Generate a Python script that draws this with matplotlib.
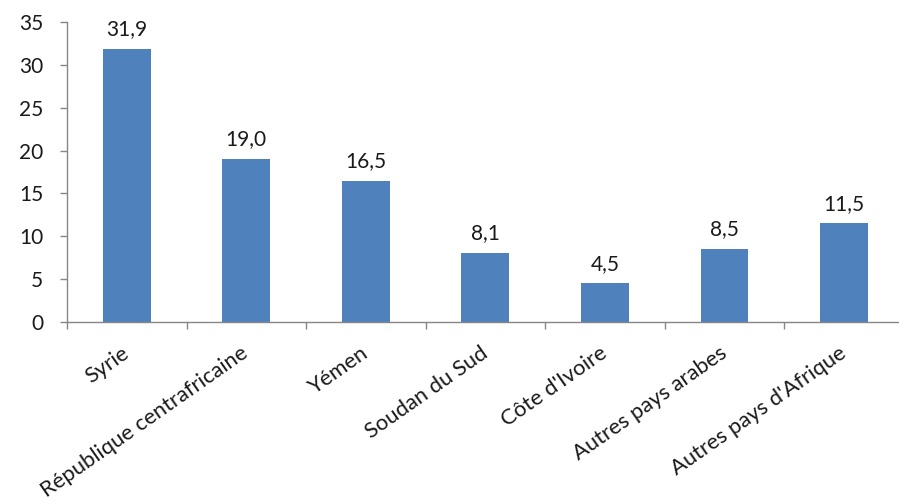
import matplotlib
matplotlib.use("Agg")
import matplotlib.pyplot as plt
import numpy as np

categories = ["Syrie", "République centrafricaine", "Yémen", "Soudan du Sud",
              "Côte d'Ivoire", "Autres pays arabes", "Autres pays d'Afrique"]
values = [31.9, 19.0, 16.5, 8.1, 4.5, 8.5, 11.5]
yticks = [0, 5, 10, 15, 20, 25, 30, 35]

plt.rcParams['font.family'] = ['Lato', 'DejaVu Sans']
FS = 15
FS_X = 15.8

fig = plt.figure(figsize=(8.99, 5.04), dpi=100)
ax = fig.add_axes([67 / 899, 182 / 504, 832 / 899, 300 / 504])

x = np.arange(len(categories))
ax.bar(x, values, width=0.4, color="#4F81BD", zorder=2)

for xi, v in zip(x, values):
    ax.annotate(f"{v:.1f}".replace(".", ","), (xi, v), xytext=(0, 7),
                textcoords="offset points", ha="center", va="bottom",
                fontsize=FS, color="#1a1a1a")

ax.set_xlim(-0.5, 6.46)
ax.set_ylim(0, 35)
ax.set_yticks(yticks)
ax.set_yticklabels([str(t) for t in yticks], fontsize=FS, color="#1a1a1a")

ax.set_xticks(x)
ax.set_xticklabels(categories, rotation=35, ha="right", va="center",
                   rotation_mode="anchor", fontsize=FS_X, color="#1a1a1a")
ax.tick_params(axis="x", length=0, pad=21)
ax.set_xticks(np.arange(-0.5, len(categories) - 0.5, 1.0), minor=True)
ax.tick_params(axis="x", which="minor", length=5, color="#868686", width=1)
ax.tick_params(axis="y", length=5, color="#868686", width=1, pad=12)

for s in ["top", "right"]:
    ax.spines[s].set_visible(False)
for s in ["left", "bottom"]:
    ax.spines[s].set_color("#868686")
    ax.spines[s].set_linewidth(1)

fig.savefig("out.png", dpi=100)
